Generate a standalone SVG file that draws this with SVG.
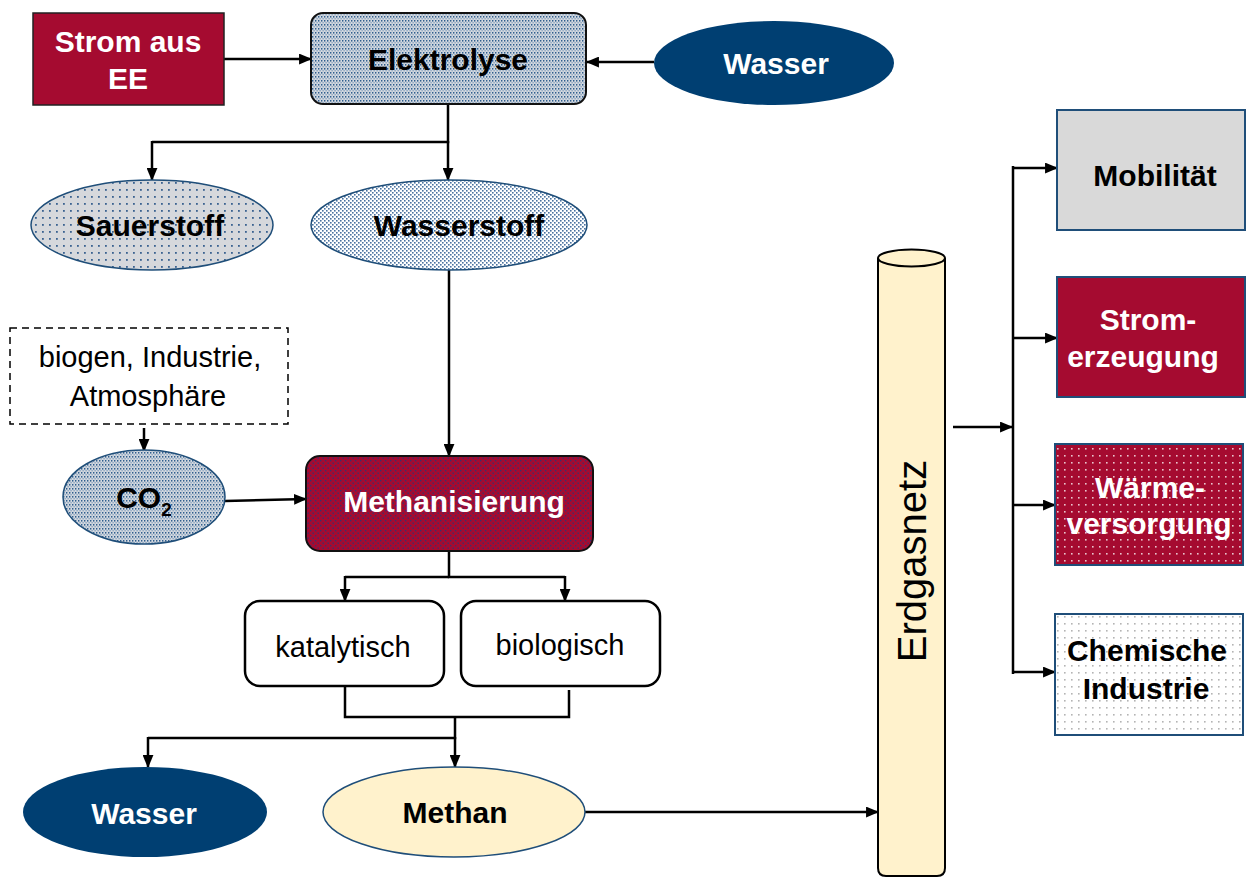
<svg xmlns="http://www.w3.org/2000/svg" width="1246" height="877" viewBox="0 0 1246 877">
<style>
text{font-family:"Liberation Sans",Arial,sans-serif;text-anchor:middle}
.b{font-weight:bold;font-size:30px}
.n{font-size:29px}
.w{fill:#fff}
.k{fill:#000}
.c line,.c path{stroke:#000;stroke-width:2.5;fill:none}
.arr{marker-end:url(#ah)}
</style>
<defs>
<marker id="ah" viewBox="0 0 12 10" refX="11" refY="5" markerWidth="13" markerHeight="11" markerUnits="userSpaceOnUse" orient="auto">
<path d="M0,0 L12,5 L0,10 z" fill="#000"/>
</marker>
<pattern id="pEl" width="3" height="4" patternUnits="userSpaceOnUse">
<rect width="3" height="4" fill="#D3D8DF"/>
<rect x="0" y="0" width="1.4" height="1.6" fill="#2F5E8E"/>
<rect x="1.5" y="2" width="1.2" height="1.4" fill="#7F9CBB"/>
</pattern>
<pattern id="pSa" width="7" height="7" patternUnits="userSpaceOnUse">
<rect width="7" height="7" fill="#D6D8DC"/>
<rect x="0" y="0" width="1.8" height="1.8" fill="#3A6290"/>
</pattern>
<pattern id="pWs" width="4" height="4" patternUnits="userSpaceOnUse">
<rect width="4" height="4" fill="#FFFFFF"/>
<rect x="0" y="0" width="1.6" height="1.6" fill="#4A72A0"/>
<rect x="2" y="2" width="1.6" height="1.6" fill="#4A72A0"/>
</pattern>
<pattern id="pMe" width="5" height="5" patternUnits="userSpaceOnUse">
<rect width="5" height="5" fill="#A50B30"/>
<rect x="0" y="0" width="1.4" height="1.4" fill="#3B2F6E"/>
<rect x="2.5" y="2.5" width="1.4" height="1.4" fill="#3B2F6E"/>
</pattern>
<pattern id="pWa" width="7" height="7" patternUnits="userSpaceOnUse">
<rect width="7" height="7" fill="#A50B30"/>
<rect x="0" y="0" width="1.6" height="1.6" fill="#E9C5CE"/>
</pattern>
<pattern id="pCh" width="7" height="7" patternUnits="userSpaceOnUse">
<rect width="7" height="7" fill="#FFFFFF"/>
<rect x="0" y="0" width="1.6" height="1.6" fill="#B4B4B4"/>
</pattern>
</defs>
<rect width="1246" height="877" fill="#fff"/>

<g class="c" id="connectors">
<line class="arr" x1="224" y1="59" x2="311" y2="59"/>
<line class="arr" x1="654" y1="62" x2="587" y2="62"/>
<path d="M448,104 V142 H152"/>
<line class="arr" x1="152" y1="141" x2="152" y2="180"/>
<line class="arr" x1="448" y1="141" x2="448" y2="180"/>
<line class="arr" x1="449" y1="270" x2="449" y2="456"/>
<line class="arr" x1="144" y1="428" x2="144" y2="451"/>
<line class="arr" x1="225" y1="501" x2="306" y2="499"/>
<path d="M449,551 V577 H565"/>
<path d="M449,577 H345"/>
<line class="arr" x1="345" y1="576" x2="345" y2="601"/>
<line class="arr" x1="565" y1="576" x2="565" y2="601"/>
<path d="M345,686 V717 H569 V690"/>
<path d="M455,717 V738 H148"/>
<line class="arr" x1="455" y1="737" x2="455" y2="767"/>
<line class="arr" x1="148" y1="737" x2="148" y2="767"/>
<line class="arr" x1="585" y1="812" x2="878" y2="812"/>
<line class="arr" x1="953" y1="427" x2="1012" y2="427"/>
<line x1="1013" y1="166" x2="1013" y2="674"/>
<line class="arr" x1="1013" y1="168" x2="1057" y2="168"/>
<line class="arr" x1="1013" y1="338" x2="1057" y2="338"/>
<line class="arr" x1="1013" y1="505" x2="1055" y2="505"/>
<line class="arr" x1="1013" y1="672" x2="1055" y2="672"/>
</g>

<g id="strom-ee">
<rect x="33" y="13" width="191" height="92" fill="#A50B30" stroke="#222" stroke-width="1.5"/>
<text class="b w" x="128" y="52">Strom aus</text>
<text class="b w" x="128" y="89">EE</text>
</g>

<g id="elektrolyse">
<rect x="311" y="13" width="275" height="91" rx="12" fill="url(#pEl)" stroke="#111" stroke-width="2"/>
<text class="b k" x="448" y="70">Elektrolyse</text>
</g>

<g id="wasser-top">
<ellipse cx="774" cy="63" rx="120" ry="42" fill="#003F72"/>
<text class="b w" x="776" y="74">Wasser</text>
</g>

<g id="sauerstoff">
<ellipse cx="152" cy="225" rx="121" ry="45" fill="url(#pSa)" stroke="#1F4E79" stroke-width="1.5"/>
<text class="b k" x="150" y="236">Sauerstoff</text>
</g>

<g id="wasserstoff">
<ellipse cx="449" cy="225" rx="138" ry="45" fill="url(#pWs)" stroke="#1F4E79" stroke-width="1.5"/>
<text class="b k" x="459" y="236">Wasserstoff</text>
</g>

<g id="quellen">
<rect x="10" y="328" width="278" height="96" fill="#fff" stroke="#000" stroke-width="1.5" stroke-dasharray="7,5"/>
<text class="n k" x="150" y="367">biogen, Industrie,</text>
<text class="n k" x="148" y="406">Atmosphäre</text>
</g>

<g id="co2">
<ellipse cx="144" cy="497" rx="81" ry="47" fill="url(#pEl)" stroke="#1F4E79" stroke-width="1.5"/>
<text class="b k" x="144" y="508">CO<tspan font-size="19" dy="8">2</tspan></text>
</g>

<g id="methanisierung">
<rect x="306" y="456" width="287" height="95" rx="14" fill="url(#pMe)" stroke="#111" stroke-width="2"/>
<text class="b w" x="454" y="512">Methanisierung</text>
</g>

<g id="katalytisch">
<rect x="245" y="601" width="199" height="85" rx="15" fill="#fff" stroke="#000" stroke-width="2.5"/>
<text class="n k" x="343" y="657">katalytisch</text>
</g>

<g id="biologisch">
<rect x="461" y="601" width="199" height="85" rx="15" fill="#fff" stroke="#000" stroke-width="2.5"/>
<text class="n k" x="560" y="655">biologisch</text>
</g>

<g id="wasser-bottom">
<ellipse cx="145" cy="812" rx="122" ry="45" fill="#003F72"/>
<text class="b w" x="144" y="824">Wasser</text>
</g>

<g id="methan">
<ellipse cx="454" cy="812" rx="131" ry="45" fill="#FFF2CC" stroke="#1F4E79" stroke-width="1.5"/>
<text class="b k" x="455" y="823">Methan</text>
</g>

<g id="erdgasnetz">
<path d="M878,258 V868 Q878,876 886,876 H937 Q945,876 945,868 V258" fill="#FFF2CC" stroke="#000" stroke-width="2"/>
<ellipse cx="911.5" cy="258" rx="33.5" ry="8.5" fill="#FFF2CC" stroke="#000" stroke-width="2"/>
<text class="k" font-size="40" transform="translate(926,561) rotate(-90)">Erdgasnetz</text>
</g>

<g id="mobilitaet">
<rect x="1057" y="110" width="188" height="120" fill="#D9D9D9" stroke="#1F4E79" stroke-width="2"/>
<text class="b k" x="1155" y="186">Mobilität</text>
</g>

<g id="stromerzeugung">
<rect x="1057" y="277" width="188" height="120" fill="#A50B30" stroke="#1F4E79" stroke-width="2"/>
<text class="b w" x="1148" y="330">Strom-</text>
<text class="b w" x="1143" y="367">erzeugung</text>
</g>

<g id="waermeversorgung">
<rect x="1055" y="444" width="188" height="121" fill="url(#pWa)" stroke="#1F4E79" stroke-width="2"/>
<text class="b w" x="1150" y="498">Wärme-</text>
<text class="b w" x="1149" y="534">versorgung</text>
</g>

<g id="chemie">
<rect x="1055" y="614" width="188" height="121" fill="url(#pCh)" stroke="#1F4E79" stroke-width="2"/>
<text class="b k" x="1147" y="661">Chemische</text>
<text class="b k" x="1146" y="699">Industrie</text>
</g>
</svg>
